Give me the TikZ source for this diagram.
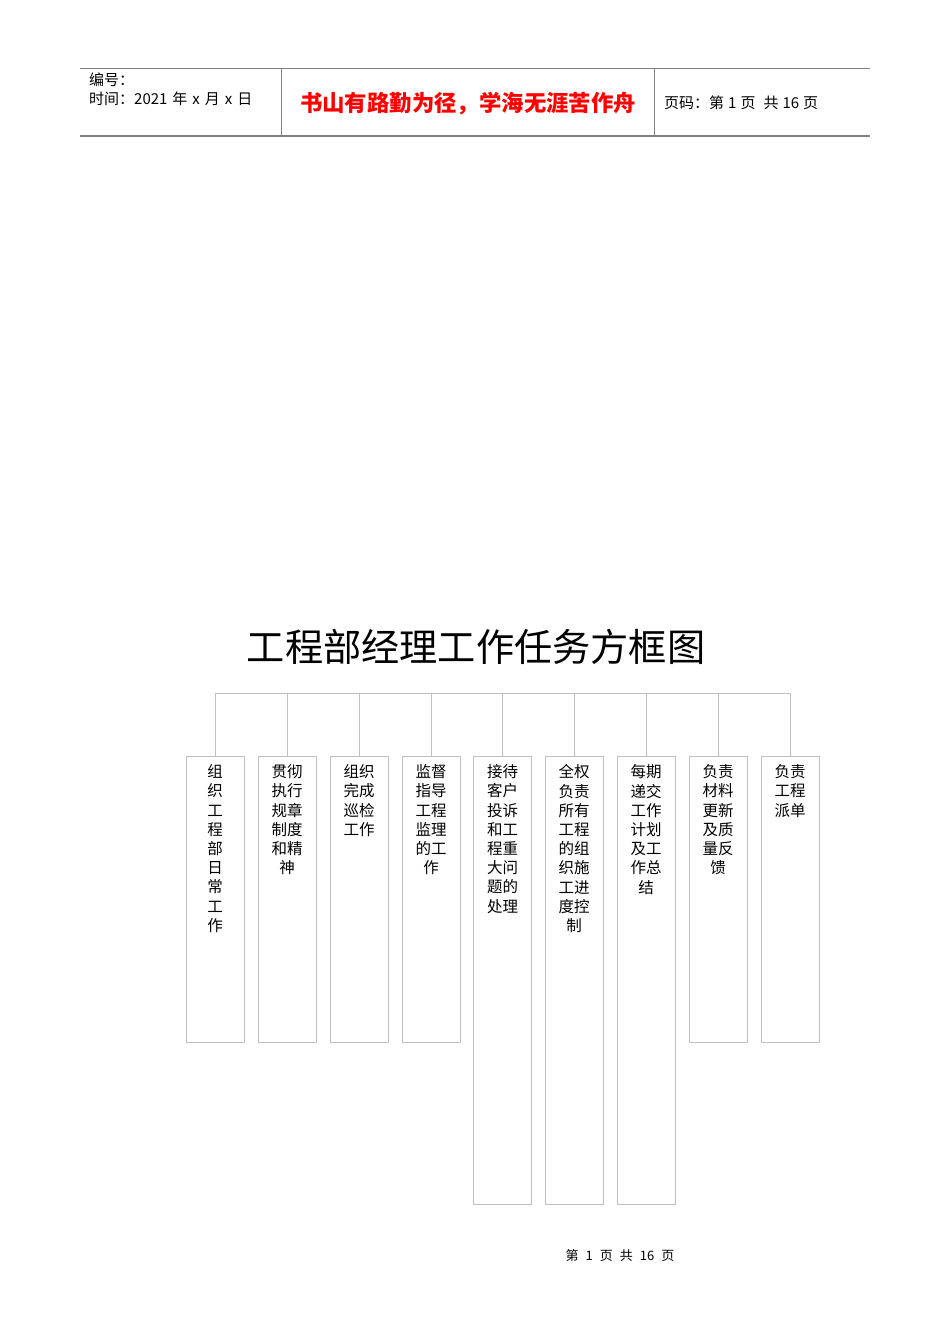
\documentclass[tikz,border=0pt]{standalone}
\usepackage{fontspec}
\setmainfont{Noto Sans CJK SC}
\usetikzlibrary{positioning}

\definecolor{boxgray}{HTML}{BFBFBF}
\definecolor{headgray}{HTML}{808080}

\newcommand{\gapsp}[1]{\hspace{#1pt}}

\tikzset{
    taskbox/.style={draw=boxgray, line width=0.8pt, anchor=north, minimum width=58pt, inner sep=0pt},
    tasktext/.style={anchor=north, align=center, inner sep=0pt, font=\fontsize{15.5}{19.2}\selectfont},
    treeline/.style={draw=boxgray, line width=0.8pt},
    headline/.style={draw=headgray, line width=0.8pt}
}

\begin{document}
\begin{tikzpicture}[x=1pt, y=-1pt]
            \useasboundingbox (0, 0) rectangle (950, 1344);

            %%header
            \draw[headline] (80, 68) to (870, 68);
            \draw[headline, line width=1.6pt] (80, 136) to (870, 136);
            \draw[headline] (281, 68) to (281, 136);
            \draw[headline] (654, 68) to (654, 136);
                \node[anchor=west, inner sep=0pt, font=\fontsize{15}{18}\selectfont] (hnum) at (89, 80){编号：};
                \node[anchor=west, inner sep=0pt, font=\fontsize{15}{18}\selectfont] (hdate) at (89, 99){时间：2021\gapsp{5}年\gapsp{5}x\gapsp{5}月\gapsp{5}x\gapsp{5}日};
                \node[inner sep=0pt, text=red, font=\fontsize{22.4}{26}\selectfont\bfseries] (motto) at (468, 104){书山有路勤为径，学海无涯苦作舟};
                \node[anchor=west, inner sep=0pt, font=\fontsize{15}{18}\selectfont] (hpage) at (664, 103){页码：第\gapsp{4}1\gapsp{4}页\gapsp{8}共\gapsp{4}16\gapsp{4}页};

            %%title
            \node[font=\fontsize{38.2}{41}\selectfont] (title) at (476, 647){工程部经理工作任务方框图};

            %%boxes
            \node[taskbox, minimum height=286pt] (b1) at (215, 756){};
            \node[taskbox, minimum height=286pt] (b2) at (287, 756){};
            \node[taskbox, minimum height=286pt] (b3) at (359, 756){};
            \node[taskbox, minimum height=286pt] (b4) at (431, 756){};
            \node[taskbox, minimum height=448pt] (b5) at (502.5, 756){};
            \node[taskbox, minimum height=448pt] (b6) at (574, 756){};
            \node[taskbox, minimum height=448pt] (b7) at (646, 756){};
            \node[taskbox, minimum height=286pt] (b8) at (718, 756){};
            \node[taskbox, minimum height=286pt] (b9) at (790, 756){};

                \node[tasktext, below=8.5pt of b1.north] (t1){组\\织\\工\\程\\部\\日\\常\\工\\作};
                \node[tasktext, below=8.5pt of b2.north] (t2){贯彻\\执行\\规章\\制度\\和精\\神};
                \node[tasktext, below=8.5pt of b3.north] (t3){组织\\完成\\巡检\\工作};
                \node[tasktext, below=8.5pt of b4.north] (t4){监督\\指导\\工程\\监理\\的工\\作};
                \node[tasktext, below=8.5pt of b5.north] (t5){接待\\客户\\投诉\\和工\\程重\\大问\\题的\\处理};
                \node[tasktext, below=8.5pt of b6.north] (t6){全权\\负责\\所有\\工程\\的组\\织施\\工进\\度控\\制};
                \node[tasktext, below=8.5pt of b7.north] (t7){每期\\递交\\工作\\计划\\及工\\作总\\结};
                \node[tasktext, below=8.5pt of b8.north] (t8){负责\\材料\\更新\\及质\\量反\\馈};
                \node[tasktext, below=8.5pt of b9.north] (t9){负责\\工程\\派单};

            %%branch
            \coordinate (busL) at (215, 693);
            \coordinate (busR) at (790, 693);
            \draw[treeline] (busL) to (busR);
            \foreach \b in {b1, b2, b3, b4, b5, b6, b7, b8, b9}
                \draw[treeline] (\b.north) to (\b.north |- busL);

            %%footer
            \node[font=\fontsize{13}{15}\selectfont] (foot) at (620, 1256){第\gapsp{7}1\gapsp{7}页\gapsp{7}共\gapsp{7}16\gapsp{7}页};

        \end{tikzpicture}
\end{document}
